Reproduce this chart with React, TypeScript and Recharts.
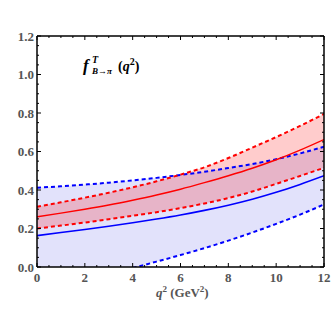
import React from 'react';
import { ComposedChart, Area, Line, XAxis, YAxis } from 'recharts';

// q^2 values (GeV^2)
const q2 = [0, 1, 2, 3, 4, 5, 6, 7, 8, 9, 10, 11, 12];
// red band (central, upper, lower)
const redCentral = [0.261, 0.28, 0.3, 0.322, 0.347, 0.374, 0.404, 0.438, 0.474, 0.513, 0.557, 0.607, 0.662];
const redUpper = [0.313, 0.336, 0.36, 0.386, 0.414, 0.445, 0.48, 0.518, 0.566, 0.62, 0.675, 0.733, 0.795];
const redLower = [0.2, 0.215, 0.231, 0.248, 0.266, 0.285, 0.306, 0.33, 0.358, 0.392, 0.432, 0.473, 0.515];
// blue band (central, upper, lower)
const blueCentral = [0.163, 0.179, 0.195, 0.212, 0.23, 0.249, 0.27, 0.294, 0.321, 0.352, 0.388, 0.429, 0.474];
const blueUpper = [0.412, 0.419, 0.428, 0.438, 0.45, 0.463, 0.478, 0.495, 0.514, 0.535, 0.56, 0.59, 0.625];
const blueLower = [-0.115, -0.09, -0.063, -0.035, -0.005, 0.028, 0.062, 0.098, 0.137, 0.179, 0.224, 0.272, 0.325];

const xMajor = [0, 2, 4, 6, 8, 10, 12];
const xMinor = [0, 0.5, 1, 1.5, 2, 2.5, 3, 3.5, 4, 4.5, 5, 5.5, 6, 6.5, 7, 7.5, 8, 8.5, 9, 9.5, 10, 10.5, 11, 11.5, 12];
const yMajor = [0, 0.2, 0.4, 0.6, 0.8, 1.0, 1.2];
const yMajorLabels = ['0.0', '0.2', '0.4', '0.6', '0.8', '1.0', '1.2'];
const yMinor = [0, 0.05, 0.1, 0.15, 0.2, 0.25, 0.3, 0.35, 0.4, 0.45, 0.5, 0.55, 0.6, 0.65, 0.7, 0.75, 0.8, 0.85, 0.9, 0.95, 1.0, 1.05, 1.1, 1.15, 1.2];

const data = q2.map((q, i) => ({
  q,
  rc: redCentral[i],
  ru: redUpper[i],
  rl: redLower[i],
  bc: blueCentral[i],
  bu: blueUpper[i],
  bl: blueLower[i],
}));

const LABEL_COLOR = '#555555';
const FONT = '"Liberation Serif", "DejaVu Serif", serif';

const isMajorX = (v: number) => xMajor.some((m) => Math.abs(m - v) < 1e-6);
const majorYIndex = (v: number) => yMajor.findIndex((m) => Math.abs(m - v) < 1e-6);

const BottomTick = (props: any) => {
  const { x, y, payload } = props;
  const v = payload.value;
  const major = isMajorX(v);
  return (
    <g>
      <line x1={x} x2={x} y1={y} y2={y - (major ? 4 : 2)} stroke="#000" strokeWidth={1} />
      {major && (
        <text x={x} y={y + 15} textAnchor="middle" fontFamily={FONT} fontWeight="bold" fontSize={13} fill={LABEL_COLOR}>
          {String(v)}
        </text>
      )}
    </g>
  );
};

const TopTick = (props: any) => {
  const { x, y, payload } = props;
  const major = isMajorX(payload.value);
  return <line x1={x} x2={x} y1={y} y2={y + (major ? 4 : 2)} stroke="#000" strokeWidth={1} />;
};

const LeftTick = (props: any) => {
  const { x, y, payload } = props;
  const idx = majorYIndex(payload.value);
  const major = idx >= 0;
  return (
    <g>
      <line x1={x} x2={x + (major ? 4 : 2)} y1={y} y2={y} stroke="#000" strokeWidth={1} />
      {major && (
        <text x={x - 3} y={y + 4.5} textAnchor="end" fontFamily={FONT} fontWeight="bold" fontSize={13} fill={LABEL_COLOR}>
          {yMajorLabels[idx]}
        </text>
      )}
    </g>
  );
};

const RightTick = (props: any) => {
  const { x, y, payload } = props;
  const major = majorYIndex(payload.value) >= 0;
  return <line x1={x} x2={x - (major ? 4 : 2)} y1={y} y2={y} stroke="#000" strokeWidth={1} />;
};

export default function App() {
  return (
    <div style={{ position: 'absolute', left: 0, top: 0, width: 332, height: 332, background: '#fff' }}>
      <ComposedChart
        width={332}
        height={332}
        data={data}
        margin={{ top: 6, right: 0, bottom: 35, left: 0 }}
      >
        <XAxis
          dataKey="q"
          type="number"
          domain={[0, 12]}
          ticks={xMinor}
          interval={0}
          allowDataOverflow
          height={30}
          tickSize={0}
          tickMargin={0}
          tickLine={false}
          tick={<BottomTick />}
          axisLine={{ stroke: '#000', strokeWidth: 1.5 }}
        />
        <XAxis
          xAxisId="top"
          orientation="top"
          dataKey="q"
          type="number"
          domain={[0, 12]}
          ticks={xMinor}
          interval={0}
          allowDataOverflow
          height={30}
          tickSize={0}
          tickMargin={0}
          tickLine={false}
          tick={<TopTick />}
          axisLine={{ stroke: '#000', strokeWidth: 1.5 }}
        />
        <YAxis
          type="number"
          domain={[0, 1.2]}
          ticks={yMinor}
          interval={0}
          allowDataOverflow
          width={37}
          tickSize={0}
          tickMargin={0}
          tickLine={false}
          tick={<LeftTick />}
          axisLine={{ stroke: '#000', strokeWidth: 1.5 }}
        />
        <YAxis
          yAxisId="right"
          orientation="right"
          type="number"
          domain={[0, 1.2]}
          ticks={yMinor}
          interval={0}
          allowDataOverflow
          width={8}
          tickSize={0}
          tickMargin={0}
          tickLine={false}
          tick={<RightTick />}
          axisLine={{ stroke: '#000', strokeWidth: 1.5 }}
        />
        <Area
          type="monotone"
          dataKey={(d: any) => [d.bl, d.bu]}
          stroke="none"
          fill="#e2e2fb"
          fillOpacity={1}
          isAnimationActive={false}
        />
        <Area
          type="monotone"
          dataKey={(d: any) => [d.rl, d.ru]}
          stroke="none"
          fill="#ff0000"
          fillOpacity={0.2}
          isAnimationActive={false}
        />
        <Line type="monotone" dataKey="bl" stroke="#0000ff" strokeWidth={2} strokeDasharray="4 3" dot={false} isAnimationActive={false} />
        <Line type="monotone" dataKey="bu" stroke="#0000ff" strokeWidth={2} strokeDasharray="4 3" dot={false} isAnimationActive={false} />
        <Line type="monotone" dataKey="bc" stroke="#0000ff" strokeWidth={1.6} dot={false} isAnimationActive={false} />
        <Line type="monotone" dataKey="ru" stroke="#ff0000" strokeWidth={2} strokeDasharray="4 3" dot={false} isAnimationActive={false} />
        <Line type="monotone" dataKey="rl" stroke="#ff0000" strokeWidth={2} strokeDasharray="4 3" dot={false} isAnimationActive={false} />
        <Line type="monotone" dataKey="rc" stroke="#ff0000" strokeWidth={1.4} dot={false} isAnimationActive={false} />
      </ComposedChart>
      <svg
        width={332}
        height={332}
        style={{ position: 'absolute', left: 0, top: 0, pointerEvents: 'none' }}
      >
        <text x={83} y={71} fontFamily={FONT} fontWeight="bold" fontStyle="italic" fontSize={17} fill="#000">f</text>
        <text x={92} y={63} fontFamily={FONT} fontWeight="bold" fontStyle="italic" fontSize={10} fill="#000">T</text>
        <text x={92} y={74} fontFamily={FONT} fontWeight="bold" fontStyle="italic" fontSize={9} fill="#000">B→π</text>
        <text x={118} y={71} fontFamily={FONT} fontWeight="bold" fontSize={14} fill="#000">
          (<tspan fontStyle="italic">q</tspan>
          <tspan dy={-6} fontSize={10}>2</tspan>
          <tspan dy={6}>)</tspan>
        </text>
        <text x={156} y={297} fontFamily={FONT} fontWeight="bold" fontSize={13} fill={LABEL_COLOR}>
          <tspan fontStyle="italic">q</tspan>
          <tspan dy={-5} fontSize={9}>2</tspan>
          <tspan dy={5}> (GeV</tspan>
          <tspan dy={-5} fontSize={9}>2</tspan>
          <tspan dy={5}>)</tspan>
        </text>
      </svg>
    </div>
  );
}
